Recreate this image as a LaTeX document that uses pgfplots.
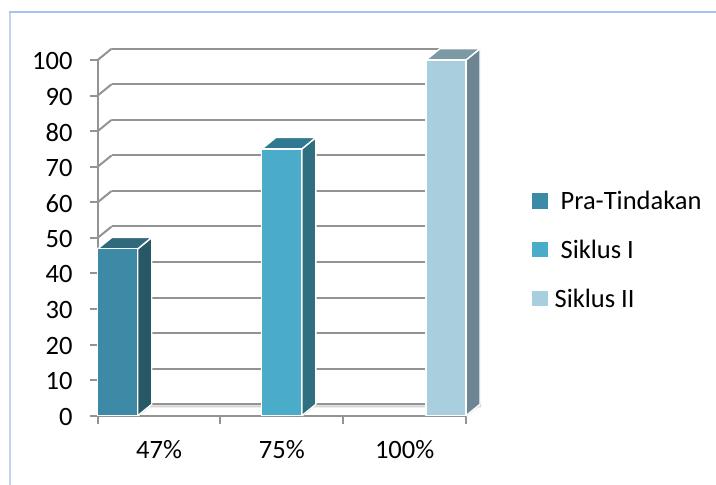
\documentclass[border=0pt]{standalone}
\usepackage{fontspec}
\setmainfont{Carlito}
\usepackage{pgfplots}
\pgfplotsset{compat=1.18}
\definecolor{gridgray}{HTML}{939393}
\definecolor{framecol}{HTML}{A9C1EA}
\definecolor{floorgray}{HTML}{D4D4D4}
\definecolor{praF}{HTML}{3C8AA5}
\definecolor{praS}{HTML}{265866}
\definecolor{praT}{HTML}{2F6A7C}
\definecolor{sikF}{HTML}{4AACC8}
\definecolor{sikS}{HTML}{306F80}
\definecolor{sikT}{HTML}{2F7A90}
\definecolor{sikiiF}{HTML}{A9CEDD}
\definecolor{sikiiS}{HTML}{6E8691}
\definecolor{sikiiT}{HTML}{7C9AA6}
\pgfplotsset{
  swatch/.style={legend image code/.code={
    \fill[#1] (0bp,-7bp) rectangle (14bp,7bp);}},
}
\begin{document}
\begin{tikzpicture}[x=1bp,y=1bp]
\useasboundingbox (0,0) rectangle (716,485);
\draw[framecol!70!white,line width=1.8bp] (10.2,0) -- (10.2,473.2);
\draw[framecol,line width=2bp] (9.3,473.2) -- (716,473.2);
\begin{axis}[
  at={(97.7bp,69.3bp)},anchor=origin,
  scale only axis,width=368.3bp,height=355.7bp,
  xmin=0,xmax=3,ymin=0,ymax=100,
  clip=false,
  axis y line*=left,axis x line*=bottom,
  axis line style={gridgray,line width=2bp,-},
  tick style={gridgray,line width=2bp},
  tick align=outside,
  major tick length=8bp,
  minor tick length=8bp,
  ytick={0,10,...,100},
  xtick={0.5,1.5,2.5},
  xticklabels={47\%,75\%,100\%},
  x tick style={draw=none},
  minor xtick={0,1,2,3},
  minor x tick style={gridgray,line width=2bp,draw=gridgray},
  /pgf/number format/assume math mode=true,
  tick label style={font=\fontsize{26.5bp}{30bp}\selectfont,text=black},
  yticklabel style={inner sep=0pt,xshift=-17bp,yshift=-1bp},
  xticklabel style={inner sep=0pt,yshift=-17bp},
  legend style={draw=none,fill=none,at={(434.3bp,225bp)},anchor=north west,
    font=\fontsize{26.5bp}{30bp}\selectfont,
    row sep=29bp,inner sep=0pt,
    cells={anchor=west},
    nodes={inner sep=0pt}},
  legend cell align=left,
]
% floor shadow and floor edges
\addplot[floorgray,line width=2bp,forget plot,unbounded coords=jump] coordinates {
 (0.326,0)(0.44,3.2)(0.44,nan)(1.663,0)(1.777,3.2)(1.777,nan)(3,0)(3.114,3.2)
 (3.114,2.6)(0.114,2.6)};
% back wall gridlines
\addplot[gridgray,line width=2bp,forget plot,unbounded coords=jump] coordinates {
 (0.114,3.2)(3.114,3.2)(3.114,nan)
 (0.114,13.2)(3.114,13.2)(3.114,nan)
 (0.114,23.2)(3.114,23.2)(3.114,nan)
 (0.114,33.2)(3.114,33.2)(3.114,nan)
 (0.114,43.2)(3.114,43.2)(3.114,nan)
 (0.114,53.2)(3.114,53.2)(3.114,nan)
 (0.114,63.2)(3.114,63.2)(3.114,nan)
 (0.114,73.2)(3.114,73.2)(3.114,nan)
 (0.114,83.2)(3.114,83.2)(3.114,nan)
 (0.114,93.2)(3.114,93.2)(3.114,nan)
 (0.114,103.2)(3.0,103.2)};
% left wall diagonals
\addplot[gridgray,line width=2bp,forget plot,unbounded coords=jump] coordinates {
 (0,0)(0.114,3.2)(0.114,nan)
 (0,10)(0.114,13.2)(0.114,nan)
 (0,20)(0.114,23.2)(0.114,nan)
 (0,30)(0.114,33.2)(0.114,nan)
 (0,40)(0.114,43.2)(0.114,nan)
 (0,50)(0.114,53.2)(0.114,nan)
 (0,60)(0.114,63.2)(0.114,nan)
 (0,70)(0.114,73.2)(0.114,nan)
 (0,80)(0.114,83.2)(0.114,nan)
 (0,90)(0.114,93.2)(0.114,nan)
 (0,100)(0.114,103.2)};
% Pra-Tindakan
\addplot[forget plot,fill=praS,draw=white,line width=1.4bp] coordinates {(0.326,0)(0.44,3.2)(0.44,50.1)(0.326,46.9)(0.326,0)};
\addplot[forget plot,fill=praT,draw=white,line width=1.4bp] coordinates {(0,46.9)(0.114,50.1)(0.44,50.1)(0.326,46.9)(0,46.9)};
\addplot[ybar,bar width=40bp,bar shift=0pt,fill=praF,draw=white,line width=1.4bp,swatch=praF] coordinates {(0.163,47)};
\addlegendentry{\hspace{13bp}Pra-Tindakan}
% Siklus I
\addplot[forget plot,fill=sikS,draw=white,line width=1.4bp] coordinates {(1.663,0)(1.777,3.2)(1.777,78.2)(1.663,75)(1.663,0)};
\addplot[forget plot,fill=sikT,draw=white,line width=1.4bp] coordinates {(1.337,75)(1.451,78.2)(1.777,78.2)(1.663,75)(1.337,75)};
\addplot[ybar,bar width=40bp,bar shift=0pt,fill=sikF,draw=white,line width=1.4bp,swatch=sikF] coordinates {(1.495,75)};
\addlegendentry{\hspace{13bp}Siklus I}
% Siklus II
\addplot[forget plot,fill=sikiiS,draw=white,line width=1.4bp] coordinates {(3,0)(3.114,3.2)(3.114,103.2)(3,100)(3,0)};
\addplot[forget plot,fill=sikiiT,draw=white,line width=1.4bp] coordinates {(2.674,100)(2.788,103.2)(3.114,103.2)(3,100)(2.674,100)};
\addplot[ybar,bar width=40bp,bar shift=0pt,fill=sikiiF,draw=white,line width=1.4bp,swatch=sikiiF] coordinates {(2.837,100)};
\addlegendentry{\hspace{7bp}Siklus II}
\end{axis}
\end{tikzpicture}
\end{document}
